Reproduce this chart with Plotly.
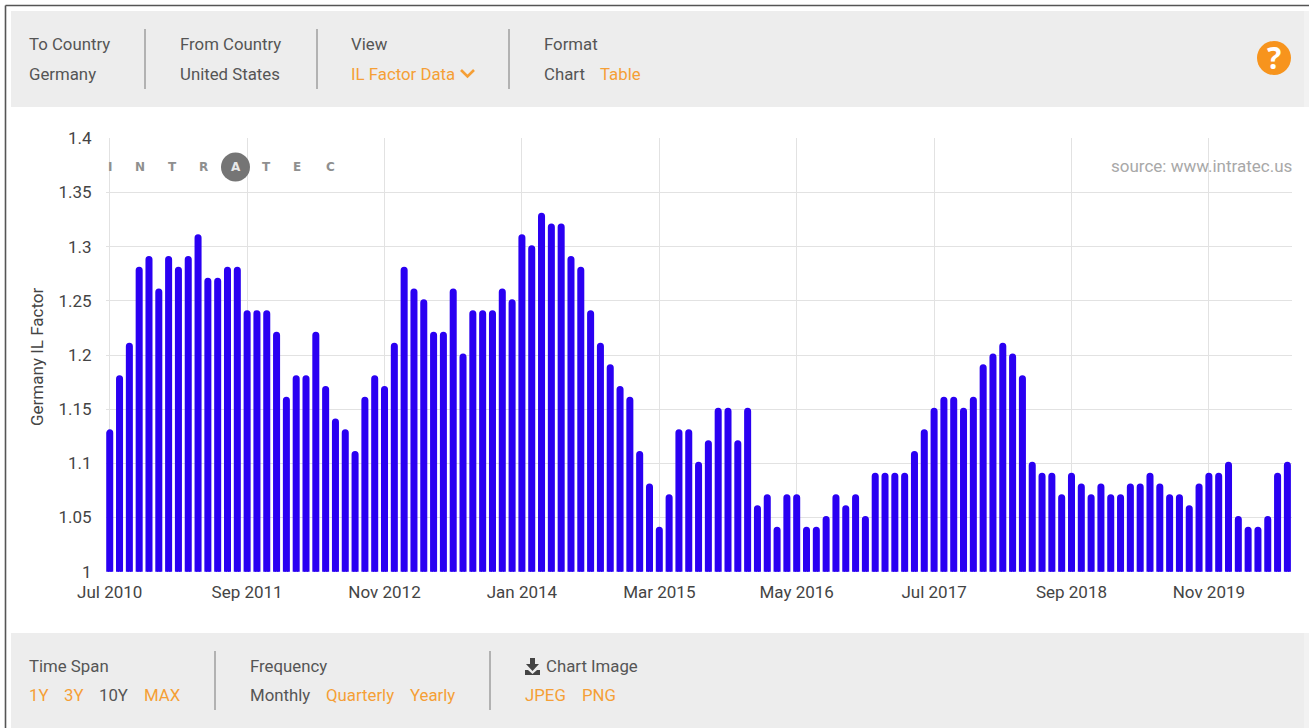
import pandas as pd
import plotly.graph_objects as go

W, H = 1309, 728
months = [d.strftime("%b %Y") for d in pd.date_range("2010-07-01", "2020-07-01", freq="MS")]
il_factor = [
    1.13, 1.18, 1.21, 1.28, 1.29, 1.26, 1.29, 1.28, 1.29, 1.31, 1.27, 1.27, 1.28, 1.28,
    1.24, 1.24, 1.24, 1.22, 1.16, 1.18, 1.18, 1.22, 1.17, 1.14, 1.13, 1.11, 1.16, 1.18,
    1.17, 1.21, 1.28, 1.26, 1.25, 1.22, 1.22, 1.26, 1.20, 1.24, 1.24, 1.24, 1.26, 1.25,
    1.31, 1.30, 1.33, 1.32, 1.32, 1.29, 1.28, 1.24, 1.21, 1.19, 1.17, 1.16, 1.11, 1.08,
    1.04, 1.07, 1.13, 1.13, 1.10, 1.12, 1.15, 1.15, 1.12, 1.15, 1.06, 1.07, 1.04, 1.07,
    1.07, 1.04, 1.04, 1.05, 1.07, 1.06, 1.07, 1.05, 1.09, 1.09, 1.09, 1.09, 1.11, 1.13,
    1.15, 1.16, 1.16, 1.15, 1.16, 1.19, 1.20, 1.21, 1.20, 1.18, 1.10, 1.09, 1.09, 1.07,
    1.09, 1.08, 1.07, 1.08, 1.07, 1.07, 1.08, 1.08, 1.09, 1.08, 1.07, 1.07, 1.06, 1.08,
    1.09, 1.09, 1.10, 1.05, 1.04, 1.04, 1.05, 1.09, 1.10,
]
x_ticks = ["Jul 2010", "Sep 2011", "Nov 2012", "Jan 2014", "Mar 2015", "May 2016",
           "Jul 2017", "Sep 2018", "Nov 2019"]
y_ticks = [1, 1.05, 1.1, 1.15, 1.2, 1.25, 1.3, 1.35, 1.4]
y_labels = ["1", "1.05", "1.1", "1.15", "1.2", "1.25", "1.3", "1.35", "1.4"]

GREY, ORANGE, TEXT = "#ededed", "#f59f36", "#555555"
PANEL_SIZE = 16.8
px = lambda x: x / W
py = lambda y: 1 - y / H


def rect(x0, y0, x1, y1, color):
    return dict(type="rect", xref="paper", yref="paper", layer="below",
                x0=px(x0), x1=px(x1), y0=py(y0), y1=py(y1),
                fillcolor=color, line_width=0)


def line(x0, y0, x1, y1, color="#8a8a8a", width=1.2):
    return dict(type="line", xref="paper", yref="paper", layer="below",
                x0=px(x0), x1=px(x1), y0=py(y0), y1=py(y1),
                line=dict(color=color, width=width))


def poly(points, fill=None, stroke=None, width=0):
    d = "M " + " L ".join(f"{px(a):.5f},{py(b):.5f}" for a, b in points)
    if fill:
        d += " Z"
    return dict(type="path", xref="paper", yref="paper", layer="above", path=d,
                fillcolor=fill or "rgba(0,0,0,0)",
                line=dict(color=stroke or "rgba(0,0,0,0)", width=width))


def label(x, y, text, color=TEXT, size=PANEL_SIZE, anchor="left", angle=0, family="Roboto"):
    return dict(xref="paper", yref="paper", x=px(x), y=py(y), text=text, showarrow=False,
                xanchor=anchor, yanchor="middle", textangle=angle,
                font=dict(family=family, size=size, color=color), borderpad=0, borderwidth=0)


shapes = [
    rect(11, 11, W, 107, GREY),
    rect(11, 633, W, H, GREY),
    rect(1304, 11, W, 107, "#f2f2f2"),
    rect(1304, 633, W, H, "#f2f2f2"),
    line(5.5, 5.5, W, 5.5, "#555555", 1.6),
    line(5.5, 5.5, 5.5, H, "#555555", 1.6),
    line(145, 29, 145, 89), line(317, 29, 317, 89), line(509, 29, 509, 89),
    line(215, 651, 215, 710), line(490, 651, 490, 710),
    dict(type="circle", xref="paper", yref="paper", layer="above",
         x0=px(1257), x1=px(1291), y0=py(41), y1=py(75),
         fillcolor="#f7941d", line_width=0),
    dict(type="circle", xref="paper", yref="paper", layer="above",
         x0=px(221), x1=px(250), y0=py(152.5), y1=py(181.5),
         fillcolor="#757575", line_width=0),
    poly([(461, 70), (467.5, 76.5), (474, 70)], stroke=ORANGE, width=2.6),
    poly([(530, 658), (535, 658), (535, 664), (539, 664), (532.5, 671), (526, 664), (530, 664)],
         fill="#444444"),
    poly([(525, 670), (528, 670), (532.5, 674), (537, 670), (540, 670), (540, 675), (525, 675)],
         fill="#444444"),
]

annotations = [
    label(29, 44, "To Country"), label(29, 74, "Germany"),
    label(180, 44, "From Country"), label(180, 74, "United States"),
    label(351, 44, "View"), label(351, 74, "IL Factor Data", ORANGE),
    label(544, 44, "Format"), label(544, 74, "Chart"), label(600, 74, "Table", ORANGE),
    label(1274, 58, "<b>?</b>", "#ffffff", 30, "center", family="Open Sans"),
    label(29, 666, "Time Span"), label(29, 695, "1Y", ORANGE), label(64, 695, "3Y", ORANGE),
    label(99, 695, "10Y"), label(144, 695, "MAX", ORANGE),
    label(250, 666, "Frequency"), label(250, 695, "Monthly"),
    label(326, 695, "Quarterly", ORANGE), label(410, 695, "Yearly", ORANGE),
    label(546, 666, "Chart Image"), label(525, 695, "JPEG", ORANGE), label(582, 695, "PNG", ORANGE),
    label(37, 357, "Germany IL Factor", "#444444", 17, "center", -90),
    label(1292, 166, "source: www.intratec.us", "#a8a8a8", 17, "right"),
]
for lx, ch in [(110, "I"), (140, "N"), (172, "T"), (203, "R"), (266, "T"), (297, "E"), (330, "C")]:
    annotations.append(label(lx, 167, f"<b>{ch}</b>", "#8f8f8f", 12, "center", family="DejaVu Sans"))
annotations.append(label(235.5, 167, "<b>A</b>", "#e8e8e8", 12, "center", family="DejaVu Sans"))

fig = go.Figure(go.Bar(x=months, y=il_factor,
                       marker=dict(color="#2a00f2", cornerradius=2,
                                   line=dict(color="#2a00f2", width=3))))
fig.update_layout(
    width=W, height=H, autosize=False, margin=dict(l=0, r=0, t=0, b=0, pad=0, autoexpand=False),
    paper_bgcolor="white", plot_bgcolor="white", showlegend=False, bargap=0.59,
    font=dict(family="Roboto", size=17, color="#444444"),
    shapes=shapes, annotations=annotations,
    xaxis=dict(type="category", categoryorder="array", categoryarray=months,
               domain=[px(106), px(1292)], range=[-0.38, 120.47],
               tickmode="array", tickvals=x_ticks, ticktext=x_ticks, tickangle=0,
               showgrid=True, gridcolor="#e2e2e2", gridwidth=1, zeroline=False, showline=False,
               ticks="outside", ticklen=5, tickcolor="rgba(0,0,0,0)",
               tickfont=dict(family="Roboto", size=17, color="#444444")),
    yaxis=dict(domain=[py(571.7), py(138.3)], range=[1, 1.4],
               tickmode="array", tickvals=y_ticks, ticktext=y_labels,
               showgrid=True, gridcolor="#e2e2e2", gridwidth=1, zeroline=False, showline=False,
               ticks="outside", ticklen=10, tickcolor="rgba(0,0,0,0)",
               tickfont=dict(family="Roboto", size=17, color="#444444")),
)

fig.write_html("out.html", config=dict(displayModeBar=False),
               post_script="document.body.style.margin='0';document.body.style.overflow='hidden';")
